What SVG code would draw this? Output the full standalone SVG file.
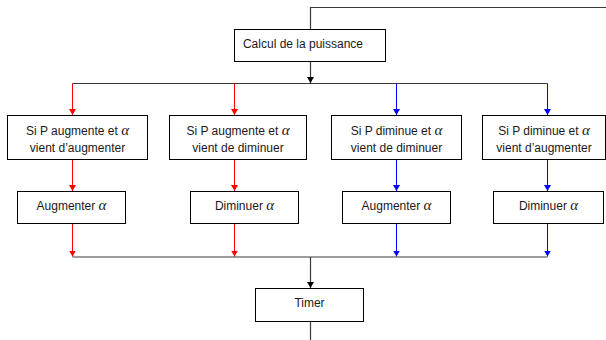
<svg xmlns="http://www.w3.org/2000/svg" width="606" height="340" viewBox="0 0 606 340">
  <style>
    .box { fill: #fff; stroke: #000; stroke-width: 1; }
    .lbl { font-family: "Liberation Sans", Arial, sans-serif; font-size: 12px; fill: #1a1a1a; text-anchor: middle; }
    .al { font-family: "Liberation Serif", "DejaVu Serif", serif; font-style: italic; font-size: 15px; }
    .k { stroke: #3a3a3a; stroke-width: 1.2; fill: none; }
    .r { stroke: #ff0000; stroke-width: 1; fill: none; }
    .b { stroke: #0000ff; stroke-width: 1; fill: none; }
  </style>
  <defs>
    <marker id="ak" markerUnits="userSpaceOnUse" markerWidth="8" markerHeight="7" refX="3.5" refY="6" viewBox="0 0 8 7">
      <path d="M0,0 L7,0 L3.5,6 Z" fill="#000"/>
    </marker>
    <marker id="ar" markerUnits="userSpaceOnUse" markerWidth="8" markerHeight="7" refX="3.5" refY="6" viewBox="0 0 8 7">
      <path d="M0,0 L7,0 L3.5,6 Z" fill="#ff0000"/>
    </marker>
    <marker id="ab" markerUnits="userSpaceOnUse" markerWidth="8" markerHeight="7" refX="3.5" refY="6" viewBox="0 0 8 7">
      <path d="M0,0 L7,0 L3.5,6 Z" fill="#0000ff"/>
    </marker>
  </defs>

  <g id="connectors">
    <!-- loop back from the top -->
    <path class="k" d="M310.5,29 V7.5 H606"/>
    <!-- power calculation to split bus -->
    <path class="k" d="M310.5,61 V83" marker-end="url(#ak)"/>
    <path class="k" d="M72.5,83.5 H547.5"/>
    <!-- red branches -->
    <path class="r" d="M72.5,83.5 V115" marker-end="url(#ar)"/>
    <path class="r" d="M234.5,83.5 V115" marker-end="url(#ar)"/>
    <path class="r" d="M72.5,159 V191" marker-end="url(#ar)"/>
    <path class="r" d="M234.5,159 V191" marker-end="url(#ar)"/>
    <path class="r" d="M72.5,223 V256.5" marker-end="url(#ar)"/>
    <path class="r" d="M234.5,223 V256.5" marker-end="url(#ar)"/>
    <!-- blue branches -->
    <path class="b" d="M396.5,83.5 V115" marker-end="url(#ab)"/>
    <path class="b" d="M547.5,83.5 V115" marker-end="url(#ab)"/>
    <path class="b" d="M396.5,159 V191" marker-end="url(#ab)"/>
    <path class="b" d="M547.5,159 V191" marker-end="url(#ab)"/>
    <path class="b" d="M396.5,223 V256.5" marker-end="url(#ab)"/>
    <path class="b" d="M547.5,223 V256.5" marker-end="url(#ab)"/>
    <!-- merge bus to timer -->
    <path class="k" d="M72.5,257 H547.5"/>
    <path class="k" d="M310.5,257 V288" marker-end="url(#ak)"/>
    <path class="k" d="M310.5,321 V340"/>
  </g>

  <g id="calcul">
    <rect class="box" x="234.5" y="29.5" width="151" height="32"/>
    <text class="lbl" x="303" y="48">Calcul de la puissance</text>
  </g>

  <g id="cond1">
    <rect class="box" x="7.5" y="115.5" width="140" height="44"/>
    <text class="lbl" x="77.5" y="135">Si P augmente et <tspan class="al">α</tspan></text>
    <text class="lbl" x="77.5" y="152">vient d’augmenter</text>
  </g>
  <g id="cond2">
    <rect class="box" x="169.5" y="115.5" width="137" height="44"/>
    <text class="lbl" x="238" y="135">Si P augmente et <tspan class="al">α</tspan></text>
    <text class="lbl" x="238" y="152">vient de diminuer</text>
  </g>
  <g id="cond3">
    <rect class="box" x="331.5" y="115.5" width="130" height="44"/>
    <text class="lbl" x="396.5" y="135">Si P diminue et <tspan class="al">α</tspan></text>
    <text class="lbl" x="396.5" y="152">vient de diminuer</text>
  </g>
  <g id="cond4">
    <rect class="box" x="482.5" y="115.5" width="123" height="44"/>
    <text class="lbl" x="544" y="135">Si P diminue et <tspan class="al">α</tspan></text>
    <text class="lbl" x="544" y="152">vient d’augmenter</text>
  </g>

  <g id="act1">
    <rect class="box" x="17.5" y="191.5" width="108" height="32"/>
    <text class="lbl" x="71.5" y="210">Augmenter <tspan class="al">α</tspan></text>
  </g>
  <g id="act2">
    <rect class="box" x="190.5" y="191.5" width="108" height="32"/>
    <text class="lbl" x="244.5" y="210">Diminuer <tspan class="al">α</tspan></text>
  </g>
  <g id="act3">
    <rect class="box" x="342.5" y="191.5" width="108" height="32"/>
    <text class="lbl" x="396.5" y="210">Augmenter <tspan class="al">α</tspan></text>
  </g>
  <g id="act4">
    <rect class="box" x="493.5" y="191.5" width="110" height="32"/>
    <text class="lbl" x="548.5" y="210">Diminuer <tspan class="al">α</tspan></text>
  </g>

  <g id="timer">
    <rect class="box" x="255.5" y="288.5" width="108" height="33"/>
    <text class="lbl" x="309.5" y="307">Timer</text>
  </g>
</svg>
